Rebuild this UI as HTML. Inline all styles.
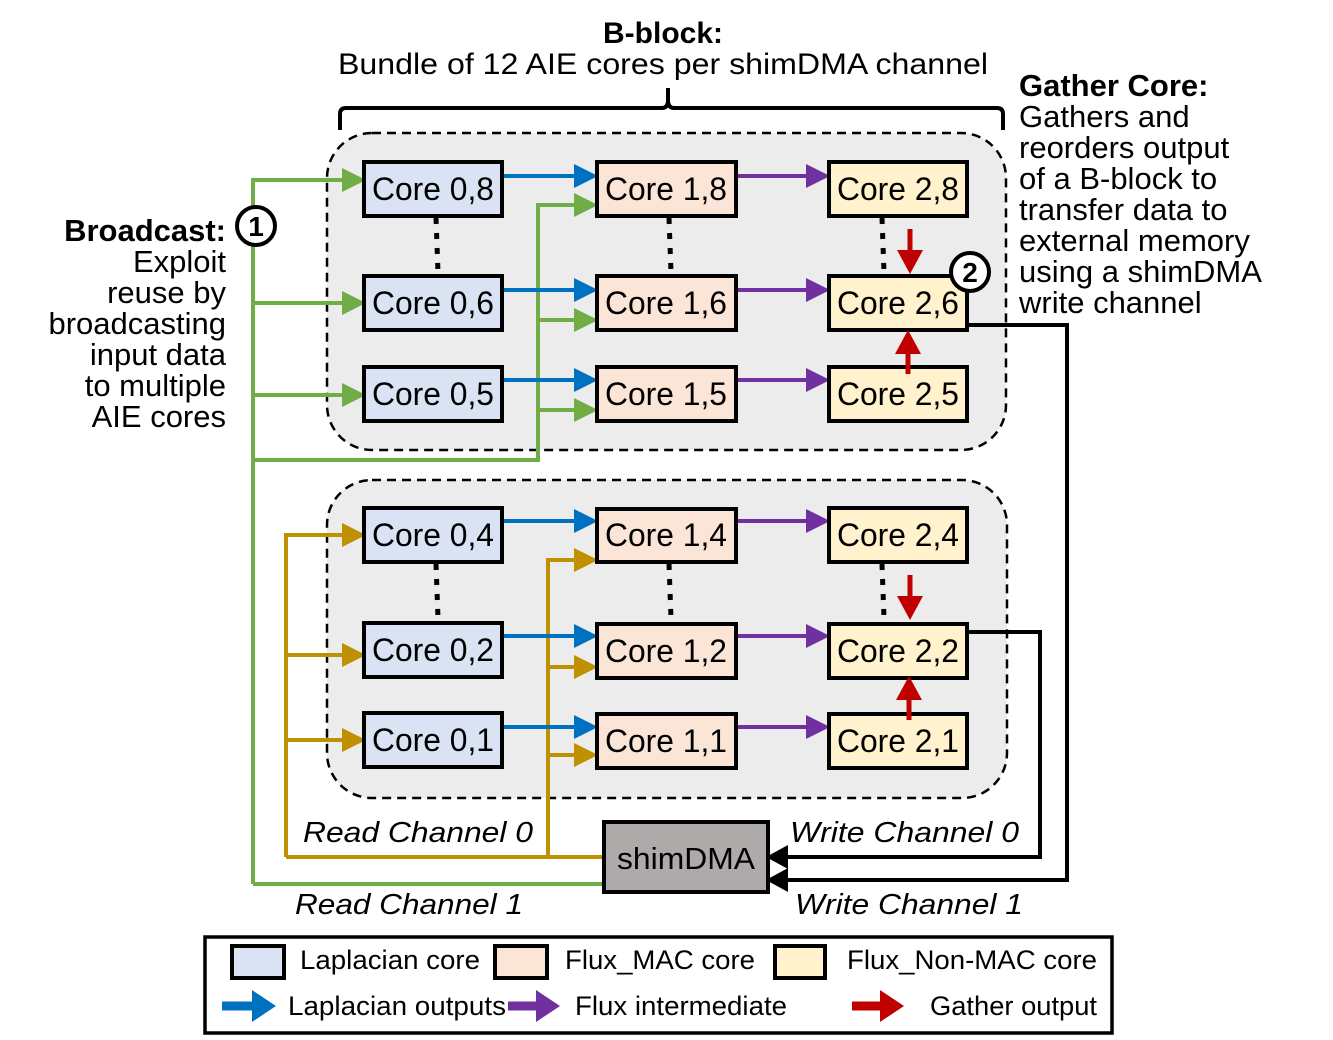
<!DOCTYPE html>
<html><head><meta charset="utf-8"><style>
html,body{margin:0;padding:0;background:#fff;}
svg{display:block;font-family:"Liberation Sans",Arial,sans-serif;}
</style></head><body>
<svg width="1333" height="1040" viewBox="0 0 1333 1040" xmlns="http://www.w3.org/2000/svg">
<text x="663" y="43" font-size="30" font-weight="bold" text-anchor="middle">B-block:</text>
<text x="663" y="74" font-size="30" text-anchor="middle" textLength="650" lengthAdjust="spacingAndGlyphs">Bundle of 12 AIE cores per shimDMA channel</text>
<path d="M340,130 L340,114 Q340,108 346,108 L662,108 Q668,108 668,100 L668,88 M668,88 L668,100 Q668,108 674,108 L997,108 Q1003,108 1003,114 L1003,130" fill="none" stroke="#000" stroke-width="4"/>
<g font-size="31">
<text x="1019" y="96" font-weight="bold">Gather Core:</text>
<text x="1019" y="127">Gathers and</text>
<text x="1019" y="158">reorders output</text>
<text x="1019" y="189">of a B-block to</text>
<text x="1019" y="220">transfer data to</text>
<text x="1019" y="251">external memory</text>
<text x="1019" y="282">using a shimDMA</text>
<text x="1019" y="313">write channel</text>
</g>
<g font-size="31" text-anchor="end">
<text x="226" y="241" font-weight="bold">Broadcast:</text>
<text x="226" y="272">Exploit</text>
<text x="226" y="303">reuse by</text>
<text x="226" y="334">broadcasting</text>
<text x="226" y="365">input data</text>
<text x="226" y="396">to multiple</text>
<text x="226" y="427">AIE cores</text>
</g>
<rect x="327" y="133" width="679" height="317" rx="45" fill="#ececec" stroke="#000" stroke-width="2.5" stroke-dasharray="9,6"/>
<rect x="327" y="480" width="680" height="318" rx="45" fill="#ececec" stroke="#000" stroke-width="2.5" stroke-dasharray="9,6"/>
<g stroke="#000" stroke-width="5" stroke-dasharray="6,9">
<line x1="436" y1="218" x2="438" y2="272"/><line x1="669" y1="218" x2="671" y2="272"/><line x1="882" y1="218" x2="884" y2="272"/>
<line x1="436" y1="564" x2="438" y2="618"/><line x1="669" y1="564" x2="671" y2="618"/><line x1="882" y1="564" x2="884" y2="618"/>
</g>
<g stroke="#70ad47" stroke-width="4" fill="none">
<path d="M253,884 L253,180 L344,180 M253,303 L344,303 M253,395 L344,395 M253,460 L538,460 L538,205 L577,205 M538,320 L577,320 M538,410 L577,410 M253,884 L604,884"/>
</g>
<g fill="#70ad47">
<polygon points="366,180 342,168 342,192"/><polygon points="366,303 342,291 342,315"/><polygon points="366,395 342,383 342,407"/>
<polygon points="598,205 574,193 574,217"/><polygon points="598,320 574,308 574,332"/><polygon points="598,410 574,398 574,422"/>
</g>
<g stroke="#bf9000" stroke-width="4" fill="none">
<path d="M286,857 L286,535 L344,535 M286,655 L344,655 M286,740 L344,740 M548,857 L548,560 L577,560 M548,667 L577,667 M548,755 L577,755 M286,857 L604,857"/>
</g>
<g fill="#bf9000">
<polygon points="366,535 342,523 342,547"/><polygon points="366,655 342,643 342,667"/><polygon points="366,740 342,728 342,752"/>
<polygon points="598,560 574,548 574,572"/><polygon points="598,667 574,655 574,679"/><polygon points="598,755 574,743 574,767"/>
</g>
<g stroke="#0070c0" stroke-width="4">
<line x1="502" y1="176" x2="577" y2="176"/><line x1="502" y1="290" x2="577" y2="290"/><line x1="502" y1="380" x2="577" y2="380"/>
<line x1="502" y1="521" x2="577" y2="521"/><line x1="502" y1="636" x2="577" y2="636"/><line x1="502" y1="727" x2="577" y2="727"/>
</g>
<g fill="#0070c0">
<polygon points="598,176 574,164 574,188"/><polygon points="598,290 574,278 574,302"/><polygon points="598,380 574,368 574,392"/>
<polygon points="598,521 574,509 574,533"/><polygon points="598,636 574,624 574,648"/><polygon points="598,727 574,715 574,739"/>
</g>
<g stroke="#7030a0" stroke-width="4">
<line x1="736" y1="176" x2="809" y2="176"/><line x1="736" y1="290" x2="809" y2="290"/><line x1="736" y1="380" x2="809" y2="380"/>
<line x1="736" y1="521" x2="809" y2="521"/><line x1="736" y1="636" x2="809" y2="636"/><line x1="736" y1="727" x2="809" y2="727"/>
</g>
<g fill="#7030a0">
<polygon points="830,176 806,164 806,188"/><polygon points="830,290 806,278 806,302"/><polygon points="830,380 806,368 806,392"/>
<polygon points="830,521 806,509 806,533"/><polygon points="830,636 806,624 806,648"/><polygon points="830,727 806,715 806,739"/>
</g>
<g stroke="#000" stroke-width="4" fill="none">
<path d="M967,325 L1067,325 L1067,880 L785,880"/>
<path d="M967,632 L1040,632 L1040,857 L785,857"/>
</g>
<polygon points="766,857 788,845 788,869" fill="#000"/>
<polygon points="766,880 788,868 788,892" fill="#000"/>
<g stroke="#000" stroke-width="4">
<rect x="364" y="162" width="138" height="54" fill="#dae3f3"/>
<rect x="364" y="276" width="138" height="54" fill="#dae3f3"/>
<rect x="364" y="367" width="138" height="54" fill="#dae3f3"/>
<rect x="364" y="508" width="138" height="54" fill="#dae3f3"/>
<rect x="364" y="623" width="138" height="54" fill="#dae3f3"/>
<rect x="364" y="713" width="138" height="54" fill="#dae3f3"/>
<rect x="597" y="162" width="139" height="54" fill="#fbe5d6"/>
<rect x="597" y="276" width="139" height="54" fill="#fbe5d6"/>
<rect x="597" y="367" width="139" height="54" fill="#fbe5d6"/>
<rect x="597" y="509" width="139" height="53" fill="#fbe5d6"/>
<rect x="597" y="624" width="139" height="54" fill="#fbe5d6"/>
<rect x="597" y="714" width="139" height="54" fill="#fbe5d6"/>
<rect x="829" y="162" width="138" height="54" fill="#fff2cc"/>
<rect x="829" y="276" width="138" height="54" fill="#fff2cc"/>
<rect x="829" y="367" width="138" height="54" fill="#fff2cc"/>
<rect x="829" y="508" width="138" height="54" fill="#fff2cc"/>
<rect x="829" y="624" width="138" height="54" fill="#fff2cc"/>
<rect x="829" y="714" width="138" height="54" fill="#fff2cc"/>
</g>
<g font-size="32" text-anchor="middle">
<text x="433" y="200" textLength="122" lengthAdjust="spacingAndGlyphs">Core 0,8</text><text x="433" y="314" textLength="122" lengthAdjust="spacingAndGlyphs">Core 0,6</text><text x="433" y="405" textLength="122" lengthAdjust="spacingAndGlyphs">Core 0,5</text>
<text x="433" y="546" textLength="122" lengthAdjust="spacingAndGlyphs">Core 0,4</text><text x="433" y="661" textLength="122" lengthAdjust="spacingAndGlyphs">Core 0,2</text><text x="433" y="751" textLength="122" lengthAdjust="spacingAndGlyphs">Core 0,1</text>
<text x="666" y="200" textLength="122" lengthAdjust="spacingAndGlyphs">Core 1,8</text><text x="666" y="314" textLength="122" lengthAdjust="spacingAndGlyphs">Core 1,6</text><text x="666" y="405" textLength="122" lengthAdjust="spacingAndGlyphs">Core 1,5</text>
<text x="666" y="546" textLength="122" lengthAdjust="spacingAndGlyphs">Core 1,4</text><text x="666" y="662" textLength="122" lengthAdjust="spacingAndGlyphs">Core 1,2</text><text x="666" y="752" textLength="122" lengthAdjust="spacingAndGlyphs">Core 1,1</text>
<text x="898" y="200" textLength="122" lengthAdjust="spacingAndGlyphs">Core 2,8</text><text x="898" y="314" textLength="122" lengthAdjust="spacingAndGlyphs">Core 2,6</text><text x="898" y="405" textLength="122" lengthAdjust="spacingAndGlyphs">Core 2,5</text>
<text x="898" y="546" textLength="122" lengthAdjust="spacingAndGlyphs">Core 2,4</text><text x="898" y="662" textLength="122" lengthAdjust="spacingAndGlyphs">Core 2,2</text><text x="898" y="752" textLength="122" lengthAdjust="spacingAndGlyphs">Core 2,1</text>
</g>
<g stroke="#c00000" stroke-width="5">
<line x1="910" y1="229" x2="910" y2="254"/><line x1="908" y1="374" x2="908" y2="348"/>
<line x1="910" y1="575" x2="910" y2="600"/><line x1="909" y1="720" x2="909" y2="694"/>
</g>
<g fill="#c00000">
<polygon points="910,274 897,250 923,250"/><polygon points="908,330 895,354 921,354"/>
<polygon points="910,620 897,596 923,596"/><polygon points="909,676 896,700 922,700"/>
</g>
<circle cx="256" cy="226" r="19" fill="#fff" stroke="#000" stroke-width="4"/>
<text x="256" y="236" font-size="28" font-weight="bold" text-anchor="middle">1</text>
<circle cx="970" cy="272" r="19" fill="#fff" stroke="#000" stroke-width="4"/>
<text x="970" y="282" font-size="28" font-weight="bold" text-anchor="middle">2</text>
<rect x="604" y="822" width="164" height="70" fill="#aeaaaa" stroke="#000" stroke-width="4"/>
<text x="686" y="869" font-size="31" text-anchor="middle" textLength="138" lengthAdjust="spacingAndGlyphs">shimDMA</text>
<g font-size="29" font-style="italic">
<text x="303" y="842" textLength="230" lengthAdjust="spacingAndGlyphs">Read Channel 0</text>
<text x="295" y="914" textLength="228" lengthAdjust="spacingAndGlyphs">Read Channel 1</text>
<text x="790" y="842" textLength="229" lengthAdjust="spacingAndGlyphs">Write Channel 0</text>
<text x="795" y="914" textLength="228" lengthAdjust="spacingAndGlyphs">Write Channel 1</text>
</g>
<rect x="205" y="937" width="907" height="96" fill="#fff" stroke="#000" stroke-width="3.5"/>
<g stroke="#000" stroke-width="4">
<rect x="232" y="946" width="52" height="32" fill="#dae3f3"/>
<rect x="495" y="946" width="52" height="32" fill="#fbe5d6"/>
<rect x="775" y="946" width="50" height="32" fill="#fff2cc"/>
</g>
<g font-size="27">
<text x="300" y="969" textLength="180" lengthAdjust="spacingAndGlyphs">Laplacian core</text>
<text x="565" y="969" textLength="190" lengthAdjust="spacingAndGlyphs">Flux_MAC core</text>
<text x="847" y="969" textLength="250" lengthAdjust="spacingAndGlyphs">Flux_Non-MAC core</text>
<text x="288" y="1015" textLength="218" lengthAdjust="spacingAndGlyphs">Laplacian outputs</text>
<text x="575" y="1015" textLength="212" lengthAdjust="spacingAndGlyphs">Flux intermediate</text>
<text x="930" y="1015" textLength="167" lengthAdjust="spacingAndGlyphs">Gather output</text>
</g>
<line x1="222" y1="1006" x2="256" y2="1006" stroke="#0070c0" stroke-width="9"/>
<polygon points="276,1006 252,990 252,1022" fill="#0070c0"/>
<line x1="508" y1="1006" x2="540" y2="1006" stroke="#7030a0" stroke-width="9"/>
<polygon points="560,1006 536,990 536,1022" fill="#7030a0"/>
<line x1="852" y1="1006" x2="884" y2="1006" stroke="#c00000" stroke-width="9"/>
<polygon points="904,1006 880,990 880,1022" fill="#c00000"/>
</svg>
</body></html>
